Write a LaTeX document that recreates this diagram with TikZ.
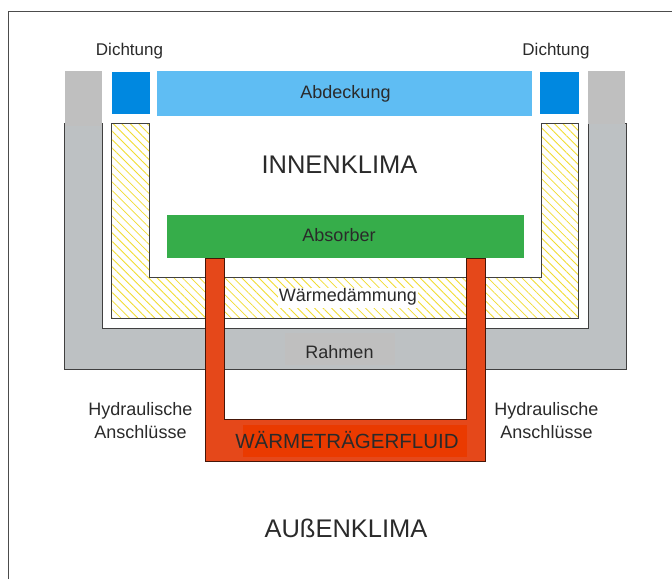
\documentclass[tikz,border=0pt]{standalone}
\usepackage{fontspec}
\setmainfont{Liberation Sans}
\usepackage{tikz}
\usetikzlibrary{patterns.meta, positioning}
\definecolor{framegrey}{HTML}{BDC1C3}
\definecolor{capgrey}{HTML}{BFBFBF}
\definecolor{sealblue}{HTML}{0088E0}
\definecolor{coverblue}{HTML}{5FBDF3}
\definecolor{absgreen}{HTML}{36AD4A}
\definecolor{pipered}{HTML}{E5481A}
\definecolor{fluidred}{HTML}{EA3A00}
\definecolor{inktext}{HTML}{2A2A2A}
\definecolor{hatchyellow}{HTML}{F2DC30}

\begin{document}
\begin{tikzpicture}[x=1pt, y=-1pt,
    solid part/.style={fill=#1, inner sep=0pt},
    label/.style={text=inktext, font=\fontsize{18}{23}\selectfont, inner sep=1pt, align=center},
    seal label/.style={text=inktext, font=\fontsize{17}{20}\selectfont, inner sep=1pt},
    big label/.style={text=inktext, font=\fontsize{25.5}{30}\selectfont, inner sep=1pt},
    outline/.style={draw=black!75, line width=0.9pt}]

\useasboundingbox (0,0) rectangle (672,579);

% Frame of the picture
\draw[black!70, line width=0.9pt] (8.5,579) -- (8.5,11) -- (672,11);

% Rahmen
\draw[outline, fill=framegrey] (64.5,123) -- (64.5,369) -- (626,369) -- (626,123) -- (588,123) -- (588,328) -- (102,328) -- (102,123) -- cycle;
\node[solid part=capgrey, minimum width=37.5pt, minimum height=55pt] (capleft) at (83.5,98.5) {};
\node[solid part=capgrey, minimum width=37.5pt, minimum height=53pt] (capright) at (606.5,97.5) {};
\node[solid part=capgrey!95!framegrey, minimum width=110pt, minimum height=32pt] (rahmenbg) at (340,349) {};

% Waermedaemmung
\draw[outline, preaction={fill=white}, pattern={Lines[angle=-45, distance=6pt, line width=0.8pt]}, pattern color=hatchyellow] (111.5,123.5) -- (111.5,318) -- (578.5,318) -- (578.5,123.5) -- (541,123.5) -- (541,277) -- (149,277) -- (149,123.5) -- cycle;
\node[fill=white, inner sep=0pt, minimum width=140pt, minimum height=20pt] (daemmungbg) at (348,298) {};

% Dichtung and Abdeckung
\node[solid part=sealblue, minimum width=38.5pt, minimum height=42pt] (sealleft) at (131,93) {};
\node[solid part=sealblue, minimum width=38.5pt, minimum height=42pt] (sealright) at (559.7,93) {};
\node[solid part=coverblue, minimum width=374.4pt, minimum height=44.5pt] (cover) at (344.5,93.7) {};

% Absorber
\node[solid part=absgreen, minimum width=357pt, minimum height=43pt] (absorber) at (345.2,236.5) {};

% Hydraulik
\draw[draw=black!70!pipered, line width=0.8pt, fill=pipered] (205,258) -- (205,461) -- (485.5,461) -- (485.5,258) -- (466,258) -- (466,419.5) -- (224,419.5) -- (224,258) -- cycle;
\node[solid part=fluidred, minimum width=224pt, minimum height=32pt] (fluidbg) at (354.7,441) {};

% Texte
\node[seal label] (dichtungleft) at (129.5,51) {Dichtung};
\node[seal label] (dichtungright) at (556,51) {Dichtung};
\node[label] (abdeckung) at (345.5,94) {Abdeckung};
\node[big label] (innen) at (339.5,164.5) {INNENKLIMA};
\node[label] (absorbertext) at (339,235) {Absorber};
\node[label] (daemmung) at (348,296.5) {Wärmedämmung};
\node[label] (rahmen) at (339.5,352.5) {Rahmen};
\node[label] (hydleft) at (140.5,421) {Hydraulische\\Anschlüsse};
\node[label] (hydright) at (546.5,421) {Hydraulische\\Anschlüsse};
\node[text=inktext, font=\fontsize{20.5}{24}\selectfont, inner sep=1pt] (fluid) at (347,440.5) {WÄRMETRÄGERFLUID};
\node[big label] (aussen) at (346,528) {AUßENKLIMA};

\end{tikzpicture}
\end{document}
